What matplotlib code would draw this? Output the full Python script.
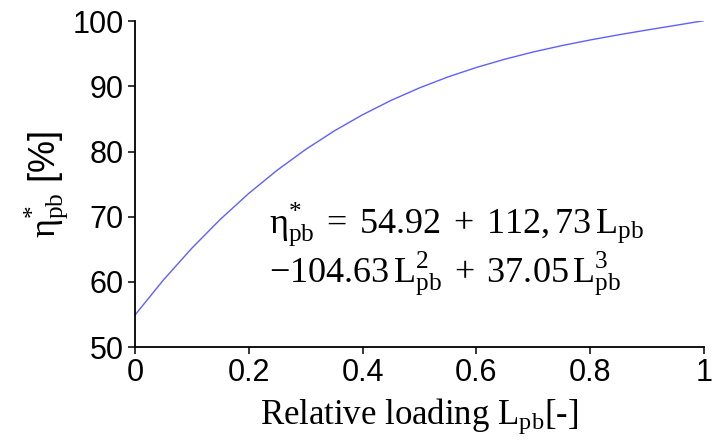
import matplotlib
matplotlib.use('Agg')
import matplotlib.pyplot as plt

plt.rcParams.update({'font.family': 'Liberation Sans'})
plt.rcParams.update({'mathtext.fontset': 'custom'})
plt.rcParams.update({'mathtext.rm': 'Liberation Serif'})
plt.rcParams.update({'mathtext.it': 'Liberation Serif:italic'})

#%% data

loading = [0.0, 0.05, 0.1, 0.15, 0.2, 0.25, 0.3, 0.35, 0.4, 0.45, 0.5,
           0.55, 0.6, 0.65, 0.7, 0.75, 0.8, 0.85, 0.9, 0.95, 1.0]
efficiency = [54.92, 60.30, 65.18, 69.60, 73.58, 77.14, 80.32, 83.15, 85.64,
              87.84, 89.76, 91.44, 92.89, 94.16, 95.27, 96.24, 97.11, 97.90,
              98.64, 99.35, 100.07]
xticks = [0, 0.2, 0.4, 0.6, 0.8, 1]
xticklabels = ['0', '0.2', '0.4', '0.6', '0.8', '1']
yticks = [50, 60, 70, 80, 90, 100]

#%% plot

fig = plt.figure(figsize=(7.14, 4.4), dpi=100)
ax = fig.add_axes([0.189, 0.211, 0.797, 0.741])

ax.plot(loading, efficiency, color='#5f5fff', lw=1.0, solid_capstyle='round')

ax.set_xlim(0, 1)
ax.set_ylim(50, 100)
ax.set_xticks(xticks)
ax.set_xticklabels(xticklabels)
ax.set_yticks(yticks)
ax.tick_params(labelsize=22, length=5, width=1.1, direction='out', pad=3)
for s in ['top', 'right']:
    ax.spines[s].set_visible(False)
for s in ['left', 'bottom']:
    ax.spines[s].set_linewidth(1.3)

ax.set_xlabel(r'Relative loading $\mathrm{L_{pb}}$[-]', fontsize=25,
              family='Liberation Serif', labelpad=6)
ax.set_ylabel(r'$\mathrm{\eta}^{*}_{\mathrm{pb}}$ [%]', fontsize=26,
              family='Liberation Sans', labelpad=1)

# fitted equation, two lines
ax.text(0.236, 0.35,
        r'$\mathrm{\eta}^{*}_{\mathrm{pb}}\;=\;54.92\;+\;112,73\,\mathrm{L}_{\mathrm{pb}}$',
        transform=ax.transAxes, fontsize=26, ha='left', va='baseline')
ax.text(0.236, 0.20,
        r'$-104.63\,\mathrm{L}^{2}_{\mathrm{pb}}\;+\;37.05\,\mathrm{L}^{3}_{\mathrm{pb}}$',
        transform=ax.transAxes, fontsize=26, ha='left', va='baseline')

fig.savefig('out.png', dpi=100)
